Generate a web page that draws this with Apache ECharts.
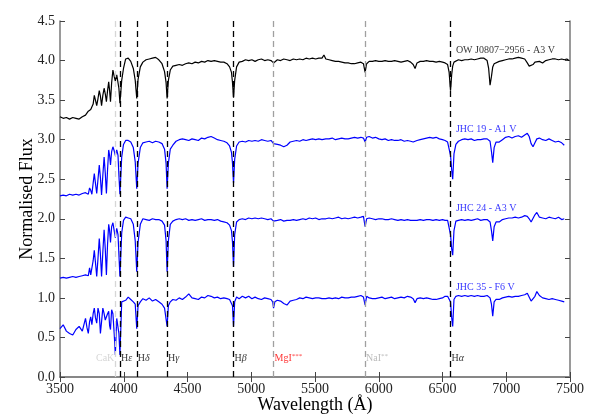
<!DOCTYPE html>
<html>
<head>
<meta charset="utf-8">
<script src="https://cdn.jsdelivr.net/npm/echarts@6/dist/echarts.min.js"></script>
<style>
  html, body { margin: 0; background: #fff; }
  #chart { width: 600px; height: 420px; }
</style>
</head>
<body>
<div id="chart"></div>
<script>
// wavelength grid (Angstrom), denser around the absorption lines
const wavelengths = [
  3500, 3525, 3550, 3575, 3600, 3625, 3650, 3675, 3700,
  3712, 3722, 3732, 3741, 3750, 3760, 3769, 3778, 3788, 3798,
  3808, 3817, 3826, 3836, 3846, 3855, 3864, 3873, 3882, 3889,
  3896, 3905, 3915, 3925, 3934, 3945, 3955, 3962, 3970, 3984, 3998,
  4015, 4035, 4055, 4075, 4090, 4102, 4112, 4130, 4150, 4175,
  4200, 4225, 4250, 4275, 4300, 4320, 4332,
  4340, 4350, 4365, 4385, 4410, 4435, 4460, 4485, 4510, 4535,
  4560, 4585, 4610, 4635, 4660, 4685, 4710, 4735, 4760, 4785,
  4810, 4830, 4845, 4853,
  4861, 4870, 4885, 4905, 4930, 4955, 4980, 5005, 5030, 5055,
  5080, 5105, 5130, 5155, 5168, 5175, 5185, 5205, 5230, 5255,
  5280, 5305, 5330, 5355, 5380, 5405, 5430, 5455, 5480, 5505,
  5530, 5555, 5570, 5585, 5610, 5635, 5660, 5685, 5710, 5735,
  5760, 5785, 5810, 5835, 5860, 5880,
  5893, 5905, 5925, 5950, 5975, 6000, 6025, 6050, 6075, 6100,
  6125, 6150, 6175, 6200, 6225, 6250, 6270, 6285, 6300, 6325,
  6350, 6375, 6400, 6425, 6450, 6475, 6500, 6520, 6540, 6552,
  6563, 6572, 6580, 6590, 6605, 6625, 6650, 6675, 6700, 6725,
  6750, 6775, 6800, 6825, 6850, 6862, 6873, 6884, 6894, 6905, 6920,
  6945, 6970, 6995, 7020, 7045, 7070, 7095, 7120, 7145, 7165,
  7180, 7195, 7210, 7225, 7240, 7260, 7285, 7310, 7335, 7360,
  7385, 7410, 7435, 7455, 7475, 7492
];

const fluxOW = [
  3.29, 3.27, 3.28, 3.26, 3.28, 3.27, 3.26, 3.29, 3.31,
  3.33, 3.36, 3.35, 3.38, 3.36, 3.45, 3.56, 3.50, 3.43, 3.52,
  3.62, 3.55, 3.43, 3.56, 3.65, 3.58, 3.48, 3.62, 3.73, 3.62,
  3.48, 3.72, 3.88, 3.80, 3.74, 3.82, 3.80, 3.65, 3.46, 3.75, 3.90,
  4.02, 4.03, 3.99, 3.90, 3.75, 3.52, 3.76, 3.92, 3.98, 4.01,
  4.02, 4.03, 4.04, 4.01, 3.96, 3.86, 3.72,
  3.52, 3.75, 3.88, 3.93, 3.94, 3.95, 3.94, 3.96, 3.97, 3.96,
  3.98, 3.97, 3.99, 3.98, 4.00, 3.99, 4.00, 3.99, 3.98, 3.98,
  3.96, 3.92, 3.85, 3.72,
  3.53, 3.75, 3.92, 3.98, 3.99, 4.01, 4.00, 4.01, 3.99, 4.01,
  4.02, 4.00, 4.01, 4.00, 3.99, 3.97, 3.99, 4.01, 4.00, 4.02,
  4.01, 4.00, 4.02, 4.01, 4.02, 4.01, 4.03, 4.02, 4.03, 4.02,
  4.03, 4.03, 4.07, 4.02, 4.01, 4.00, 3.99, 3.99, 3.98, 3.97,
  3.97, 3.96, 3.96, 3.97, 3.98, 3.96,
  3.85, 3.96, 3.99, 3.99, 4.00, 3.99, 3.99, 4.00, 3.99, 3.99,
  4.00, 3.99, 3.98, 3.99, 4.00, 3.98, 3.95, 3.90, 3.97, 3.99,
  3.99, 4.00, 3.99, 3.99, 3.98, 3.99, 3.98, 3.97, 3.95, 3.85,
  3.62, 3.82, 3.93, 3.98, 4.00, 4.01, 4.00, 4.01, 4.01, 4.02,
  4.01, 4.02, 4.03, 4.03, 4.00, 3.90, 3.69, 3.80, 3.92, 3.96, 3.98,
  3.99, 4.00, 4.01, 4.02, 4.02, 4.03, 4.04, 4.03, 4.02, 3.97,
  3.93, 3.92, 3.95, 3.98, 3.97, 3.99, 3.97, 4.00, 4.01, 4.02,
  4.02, 4.01, 4.02, 4.01, 4.02, 4.00
];

const fluxJHC19 = [
  2.29, 2.30, 2.29, 2.31, 2.30, 2.31, 2.30, 2.32, 2.33,
  2.34, 2.31, 2.39, 2.36, 2.31, 2.45, 2.57, 2.45, 2.32, 2.50,
  2.68, 2.52, 2.30, 2.55, 2.78, 2.58, 2.32, 2.62, 2.87, 2.80,
  2.68, 2.85, 2.91, 2.86, 2.80, 2.87, 2.80, 2.55, 2.31, 2.78, 2.94,
  2.99, 2.99, 2.97, 2.90, 2.72, 2.38, 2.70, 2.90, 2.96, 2.97,
  2.98, 2.96, 2.98, 2.97, 2.95, 2.88, 2.70,
  2.38, 2.70, 2.88, 2.93, 2.98, 3.00, 3.01, 3.00, 2.99, 3.01,
  3.00, 2.99, 3.02, 3.01, 3.03, 3.04, 3.02, 3.00, 2.99, 2.98,
  2.96, 2.92, 2.84, 2.70,
  2.45, 2.75, 2.92, 2.97, 2.98, 2.97, 2.99, 2.98, 2.99, 2.98,
  3.00, 2.99, 2.98, 2.99, 2.97, 2.95, 2.97, 2.94, 2.93, 2.91,
  2.93, 2.97, 2.98, 2.99, 2.98, 3.00, 2.99, 3.00, 3.01, 3.00,
  3.01, 3.00, 3.02, 3.01, 3.01, 3.02, 3.00, 3.01, 3.02, 3.01,
  3.01, 3.02, 3.03, 3.02, 3.03, 3.02,
  2.97, 3.03, 3.04, 3.02, 3.03, 3.01, 3.00, 3.01, 2.99, 3.00,
  2.99, 2.99, 3.00, 2.98, 2.99, 2.98, 2.97, 2.98, 2.99, 3.00,
  3.01, 3.02, 3.03, 3.02, 3.03, 3.01, 3.00, 2.99, 2.97, 2.95,
  2.80, 2.62, 2.50, 2.82, 2.94, 2.98, 3.00, 3.01, 3.00, 3.01,
  2.99, 3.00, 3.00, 3.01, 3.01, 3.00, 2.98, 2.85, 2.71, 2.90, 2.97,
  2.97, 3.00, 3.03, 3.04, 3.02, 3.04, 3.05, 3.03, 3.06, 3.08,
  3.04, 2.95, 2.91, 2.96, 3.01, 3.02, 3.00, 2.99, 3.01, 2.99,
  2.97, 2.98, 2.96, 2.93, null, null
];

const fluxJHC24 = [
  1.25, 1.26, 1.25, 1.26, 1.27, 1.26, 1.27, 1.28, 1.29,
  1.30, 1.28, 1.38, 1.29, 1.30, 1.47, 1.60, 1.45, 1.27, 1.50,
  1.75, 1.55, 1.27, 1.58, 1.86, 1.62, 1.29, 1.68, 1.93, 1.85,
  1.70, 1.90, 1.95, 1.85, 1.76, 1.88, 1.80, 1.55, 1.27, 1.82, 1.98,
  2.02, 2.01, 2.00, 1.93, 1.72, 1.33, 1.70, 1.93, 2.00, 1.99,
  1.98, 2.00, 1.99, 1.99, 1.97, 1.92, 1.72,
  1.33, 1.72, 1.93, 1.97, 1.99, 2.00, 1.99, 2.00, 1.98, 1.99,
  1.98, 1.99, 2.00, 1.98, 1.99, 1.99, 1.98, 1.99, 1.97, 1.96,
  1.95, 1.92, 1.85, 1.70,
  1.39, 1.80, 1.96, 1.99, 2.00, 1.99, 2.01, 2.00, 2.01, 2.00,
  2.01, 2.00, 1.99, 2.00, 1.99, 1.97, 1.99, 1.98, 1.99, 1.97,
  1.98, 1.98, 1.99, 1.98, 1.99, 2.00, 1.99, 2.01, 2.00, 2.01,
  1.99, 2.00, 2.01, 2.00, 2.01, 2.00, 2.01, 2.02, 2.00, 2.01,
  2.00, 2.01, 2.02, 2.01, 2.02, 2.03,
  1.90, 2.00, 2.01, 2.00, 1.99, 2.00, 2.00, 1.99, 1.99, 2.00,
  1.99, 1.98, 1.99, 1.98, 1.99, 1.98, 1.98, 1.97, 1.98, 1.99,
  1.98, 1.99, 1.99, 1.98, 1.99, 1.98, 1.99, 1.98, 1.98, 1.97,
  1.80, 1.62, 1.54, 1.85, 1.97, 1.98, 1.99, 1.98, 1.99, 1.98,
  1.99, 2.00, 1.98, 1.99, 1.99, 1.98, 1.96, 1.85, 1.72, 1.90, 1.96,
  1.96, 1.99, 2.00, 2.01, 2.01, 2.02, 2.01, 2.02, 2.04, 2.03,
  2.00, 1.96, 1.95, 2.05, 2.08, 2.02, 2.01, 2.00, 2.02, 2.01,
  2.00, 2.02, 1.99, 2.00, null, null
];

const fluxJHC35 = [
  0.61, 0.66, 0.58, 0.55, 0.53, 0.60, 0.64, 0.58, 0.74,
  0.62, 0.55, 0.70, 0.76, 0.66, 0.80, 0.87, 0.75, 0.68, 0.87,
  0.80, 0.55, 0.70, 0.87, 0.80, 0.72, 0.70, 0.80, 0.83, 0.65,
  0.60, 0.85, 0.80, 0.55, 0.28, 0.74, 0.72, 0.55, 0.28, 0.95, 0.97,
  0.97, 1.01, 0.98, 0.95, 0.92, 0.61, 0.90, 0.95, 0.99, 0.97,
  1.00, 0.96, 0.98, 0.95, 0.92, 0.87, 0.85,
  0.64, 0.90, 0.95, 0.98, 0.97, 1.00, 0.98, 1.01, 1.05, 1.00,
  0.99, 0.98, 1.01, 1.00, 1.03, 1.02, 1.00, 1.01, 0.99, 1.00,
  0.99, 0.98, 0.97, 0.90,
  0.64, 0.95, 1.01, 0.99, 1.02, 1.00, 1.02, 0.99, 1.01, 0.99,
  0.98, 1.00, 0.99, 0.98, 0.95, 0.87, 0.95, 0.97, 0.96, 0.93,
  0.91, 0.96, 0.97, 0.98, 1.00, 0.99, 1.01, 1.00, 0.99, 1.00,
  1.00, 0.99, 1.01, 0.99, 1.00, 0.99, 1.00, 0.99, 1.01, 1.00,
  1.00, 1.01, 1.01, 1.02, 1.03, 1.01,
  0.91, 1.02, 1.00, 0.99, 0.99, 1.00, 1.01, 0.99, 1.00, 1.01,
  0.99, 1.00, 1.01, 1.00, 1.02, 1.01, 0.99, 0.94, 0.99, 1.00,
  0.99, 1.00, 0.99, 0.98, 0.98, 0.99, 1.00, 1.02, 1.02, 1.01,
  0.95, 0.75, 0.64, 0.98, 1.02, 1.03, 1.02, 1.03, 1.02, 1.03,
  1.02, 1.03, 1.02, 1.02, 1.03, 1.01, 1.00, 0.92, 0.77, 0.95, 0.98,
  0.98, 1.00, 1.01, 1.02, 1.01, 1.02, 1.02, 1.03, 1.04, 1.06,
  1.04, 0.96, 0.94, 1.02, 1.08, 1.03, 1.00, 0.99, 0.98, 0.99,
  0.98, 0.97, 0.96, 0.95, null, null
];

const starNames = ["OW J0807\u22122956 - A3 V", "JHC 19 - A1 V", "JHC 24 - A3 V", "JHC 35 - F6 V"];

// spectral lines marked on the plot
const lineNames = ["CaK", "H\u03b5", "H\u03b4", "H\u03b3", "H\u03b2", "MgI***", "NaI**", "H\u03b1"];
const lineWaves = [3934, 3970, 4102, 4340, 4861, 5175, 5893, 6563];
const lineKinds = ["ca", "balmer", "balmer", "balmer", "balmer", "mg", "na", "balmer"];

const xTicks = { min: 3500, max: 7500, step: 500 };
const yTicks = { min: 0, max: 4.5, step: 0.5 };

const serif = "Liberation Serif";
const dashColor = { ca: "#d6d6d6", balmer: "#000000", mg: "#a0a0a0", na: "#a0a0a0" };
const textColor = { ca: "#cccccc", balmer: "#000000", mg: "#ff0000", na: "#aaaaaa" };
const starColors = ["#000000", "#0000ff", "#0000ff", "#0000ff"];
const fluxes = [fluxOW, fluxJHC19, fluxJHC24, fluxJHC35];

const toPairs = (flux) => wavelengths.map((w, i) => [w, flux[i]]).filter((p) => p[1] != null);

const richLabel = (name) => {
  const m = name.match(/^(.*?)([\u03b1-\u03c9]?)(\**)$/);
  let s = "{b|" + m[1] + "}";
  if (m[2]) s += "{g|" + m[2] + "}";
  if (m[3]) s += "{s|" + m[3] + "}";
  return s;
};

const labelAt = wavelengths.indexOf(6605);

const getOption = () => {
  const frame = { lineStyle: { color: "#808080", width: 1.6 } };
  const ticks = { inside: true, length: 5, lineStyle: { color: "#444", width: 1 } };

  const spectra = fluxes.map((f, k) => ({
    type: "line",
    name: starNames[k],
    data: toPairs(f),
    showSymbol: false,
    symbol: "none",
    z: 3,
    lineStyle: { color: starColors[k], width: 1.2 },
    silent: true
  }));

  const markers = {
    type: "line",
    data: [],
    z: 2,
    markLine: {
      silent: true,
      symbol: ["none", "none"],
      label: { show: false },
      animation: false,
      data: lineWaves.map((w, i) => ({
        xAxis: w,
        lineStyle: { color: dashColor[lineKinds[i]], type: [6, 4], width: 1.3 }
      }))
    }
  };

  const lineLabels = {
    type: "scatter",
    symbolSize: 0,
    z: 4,
    silent: true,
    data: lineWaves.map((w, i) => {
      const c = textColor[lineKinds[i]];
      return {
        value: [w, 0.23],
        label: {
          show: true,
          position: lineKinds[i] === "ca" ? "left" : "right",
          distance: 1,
          formatter: richLabel(lineNames[i]),
          rich: {
            b: { color: c, fontFamily: serif, fontSize: 10, lineHeight: 12 },
            g: { color: c, fontFamily: serif, fontSize: 10, fontStyle: "italic", lineHeight: 12 },
            s: { color: c, fontFamily: serif, fontSize: 7, lineHeight: 7, verticalAlign: "top" }
          }
        }
      };
    })
  };

  const starLabels = {
    type: "scatter",
    symbolSize: 0,
    z: 4,
    silent: true,
    data: fluxes.map((f, k) => ({
      value: [wavelengths[labelAt], Math.round(f[labelAt]) + 0.13],
      label: {
        show: true,
        position: "right",
        distance: 0,
        formatter: starNames[k],
        color: starColors[k],
        fontFamily: serif,
        fontSize: 10
      }
    }))
  };

  return {
    animation: false,
    backgroundColor: "#fff",
    grid: { left: 60, right: 30, top: 21, bottom: 43 },
    xAxis: [
      {
        type: "value", position: "bottom",
        min: xTicks.min, max: xTicks.max, interval: xTicks.step,
        axisLine: frame, axisTick: ticks, splitLine: { show: false },
        axisLabel: {
          color: "#222", fontFamily: serif, fontSize: 14, margin: 5,
          formatter: (v) => String(v)
        },
        name: "Wavelength (\u00c5)", nameLocation: "middle", nameGap: 19,
        nameMoveOverlap: false,
        nameTextStyle: { color: "#000", fontFamily: serif, fontSize: 18 }
      },
      {
        type: "value", position: "top",
        min: xTicks.min, max: xTicks.max, interval: xTicks.step,
        axisLine: frame, axisTick: ticks, splitLine: { show: false },
        axisLabel: { show: false }
      }
    ],
    yAxis: [
      {
        type: "value", position: "left",
        min: yTicks.min, max: yTicks.max, interval: yTicks.step,
        axisLine: frame, axisTick: ticks, splitLine: { show: false },
        axisLabel: {
          color: "#222", fontFamily: serif, fontSize: 14, margin: 5,
          formatter: (v) => v.toFixed(1)
        },
        name: "Normalised Flux", nameLocation: "middle", nameGap: 24,
        nameMoveOverlap: false,
        nameTextStyle: { color: "#000", fontFamily: serif, fontSize: 18 }
      },
      {
        type: "value", position: "right",
        min: yTicks.min, max: yTicks.max, interval: yTicks.step,
        axisLine: frame, axisTick: ticks, splitLine: { show: false },
        axisLabel: { show: false }
      }
    ],
    series: [markers, ...spectra, lineLabels, starLabels]
  };
};

const chart = echarts.init(document.querySelector("#chart"), null, { renderer: "canvas" });
chart.setOption(getOption());
</script>
</body>
</html>
